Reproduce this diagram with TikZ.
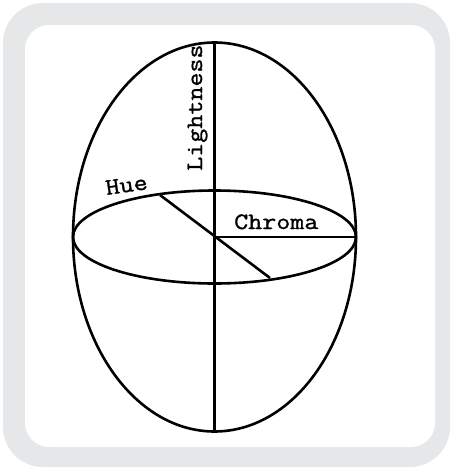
\documentclass[tikz,border=0pt]{standalone}
\usepackage{fontspec}
\newfontfamily\courlike[FakeStretch=1.16,FakeBold=1.2]{Latin Modern Mono}
\definecolor{frame}{HTML}{E6E7E8}
\begin{document}
\begin{tikzpicture}[x=1pt,y=-1pt,
  axis/.style={line width=2.6pt,black},
  lbl/.style={font=\courlike\fontsize{23.5}{24}\selectfont,inner sep=0pt}]
\useasboundingbox (0,0) rectangle (452,469);
% frame
\fill[frame,rounded corners=40pt] (3,3) rectangle (450,467);
\fill[white,rounded corners=24pt] (25,25) rectangle (435,447);
% coordinates
\coordinate (c) at (214.5,237);
\coordinate (t) at (214.5,42);
\coordinate (b) at (214.5,431);
\coordinate (r) at (356,237);
\coordinate (h1) at (160,195);
\coordinate (h2) at (270,278);
% shapes
\draw[axis] (c) ellipse [x radius=141.5pt, y radius=194.5pt];
\draw[axis] (c) ellipse [x radius=141.5pt, y radius=46.5pt];
\draw[axis] (t) -- (b);
\draw[axis] (c) -- (r);
\draw[axis] (h1) -- (h2);
% labels
\node[lbl,rotate=90,anchor=base west] (light) at (202,171) {Lightness};
\node[lbl,anchor=base west] (chroma) at (234,229) {Chroma};
\node[lbl,rotate=8] (hue) at (126.5,185) {Hue};
\end{tikzpicture}
\end{document}
